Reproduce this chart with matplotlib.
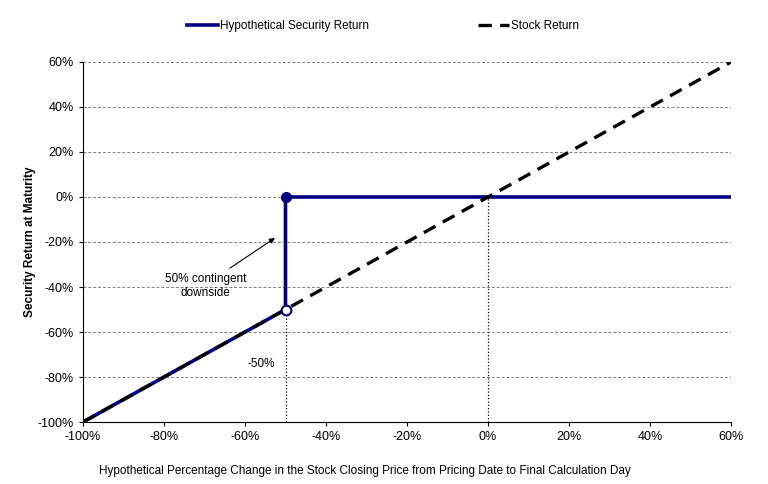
import matplotlib
matplotlib.use("Agg")
import matplotlib.pyplot as plt
from matplotlib.ticker import FuncFormatter

plt.rcParams['font.family'] = ['Liberation Sans', 'DejaVu Sans']

# data
stock_x = [-100, 60]
stock_y = [-100, 60]
sec_x = [-100, -50, -50, 60]
sec_y = [-100, -50, 0, 0]
barrier = -50
x_ticks = [-100, -80, -60, -40, -20, 0, 20, 40, 60]
y_ticks = [-100, -80, -60, -40, -20, 0, 20, 40, 60]

navy = '#000080'

fig = plt.figure(figsize=(7.68, 4.84), dpi=100)
ax = fig.add_axes([0.108, 0.128, 0.844, 0.744])

for yv in y_ticks[1:]:
    ax.axhline(yv, color='#808080', linestyle=(0, (3, 2)), linewidth=0.7, zorder=0)

ax.plot([barrier, barrier], [-100, barrier], color='black', linestyle=':', linewidth=0.9, zorder=1)
ax.plot([0, 0], [-100, 0], color='black', linestyle=':', linewidth=0.9, zorder=1)

ax.plot(sec_x, sec_y, color=navy, linewidth=2.6, label='Hypothetical Security Return', zorder=3)
ax.plot(stock_x, stock_y, color='black', linewidth=2.4, linestyle=(0, (4, 2.5)), label='Stock Return', zorder=4)

ax.plot([barrier], [0], marker='o', markersize=7, color=navy, zorder=5)
ax.plot([barrier], [barrier], marker='o', markersize=7, markerfacecolor='white',
        markeredgecolor=navy, markeredgewidth=1.5, zorder=5)

# arrow + label
ax.annotate('', xy=(-52.6, -18.2), xytext=(-63.7, -31.6),
            arrowprops=dict(arrowstyle='-|>', color='black', lw=0.8, mutation_scale=8,
                            shrinkA=0, shrinkB=0))
ax.text(-69.7, -39.5, '50% contingent\ndownside', ha='center', va='center', fontsize=8.5,
        linespacing=1.25)
ax.text(-56, -74.2, '-50%', ha='center', va='center', fontsize=8.5)

ax.set_xlim(-100, 60)
ax.set_ylim(-100, 60)
ax.set_xticks(x_ticks)
ax.set_yticks(y_ticks)
pct = FuncFormatter(lambda v, p: f'{int(v)}%')
ax.xaxis.set_major_formatter(pct)
ax.yaxis.set_major_formatter(pct)
ax.tick_params(labelsize=9, length=3, direction='out', width=0.8)
ax.spines['top'].set_visible(False)
ax.spines['right'].set_visible(False)

ax.set_ylabel('Security Return at Maturity', fontsize=8.5, fontweight='bold')
ax.yaxis.set_label_coords(-0.073, 0.5)
ax.set_xlabel('Hypothetical Percentage Change in the Stock Closing Price from Pricing Date to Final Calculation Day',
              fontsize=8.5)
ax.xaxis.set_label_coords(0.435, -0.12)

fig.legend(*ax.get_legend_handles_labels(), loc='center', bbox_to_anchor=(383 / 768, 0.946),
           ncol=2, frameon=False, fontsize=8.5, columnspacing=9.2, handlelength=2.6,
           handletextpad=0.2)

fig.savefig('out.png', dpi=100)
